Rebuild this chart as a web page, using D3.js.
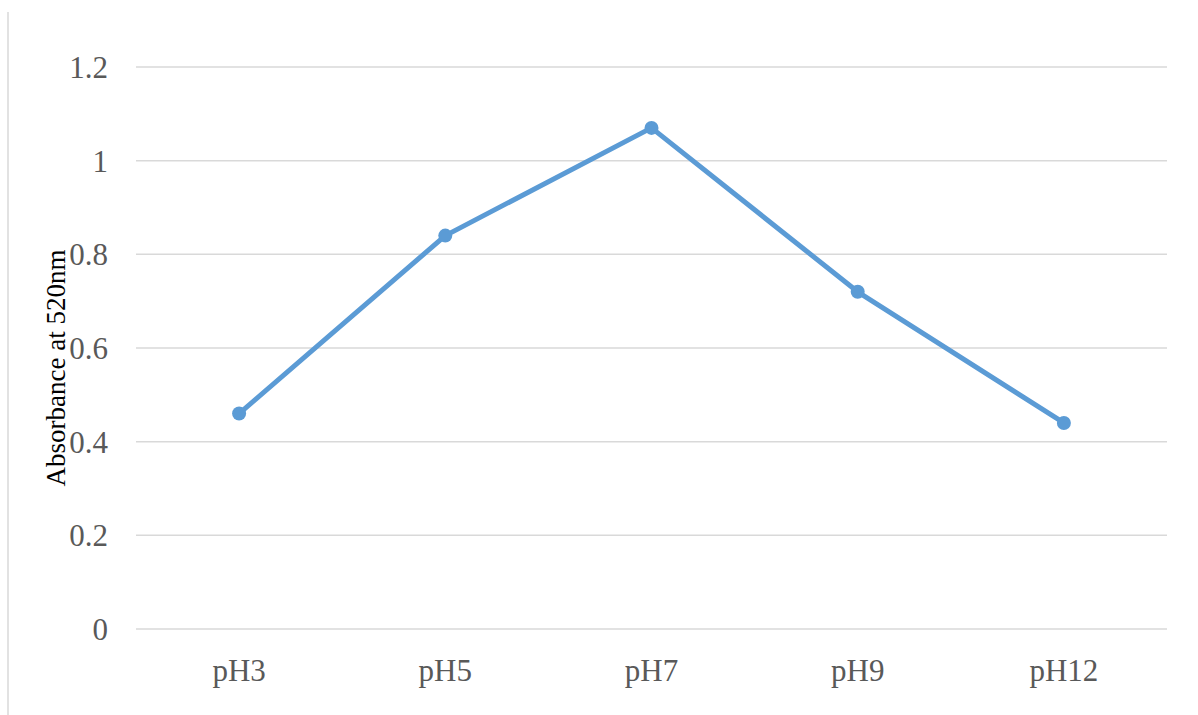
<!DOCTYPE html>
<html>
<head>
<meta charset="utf-8">
<script src="https://cdn.jsdelivr.net/npm/d3@7"></script>
<style>
  html, body { margin: 0; padding: 0; background: #fff; }
  svg { display: block; }
</style>
</head>
<body>
<svg id="chart" width="1198" height="715"></svg>
<script>
// Absorbance at 520 nm across pH conditions
const categories = ["pH3", "pH5", "pH7", "pH9", "pH12"];
const absorbance = [0.46, 0.84, 1.07, 0.72, 0.44];
const yTicks = [0, 0.2, 0.4, 0.6, 0.8, 1, 1.2];
const yTitle = "Absorbance at 520nm";

const svg = d3.select("#chart");
const W = 1198, H = 715;
const plot = { left: 136, right: 1167, top: 67, bottom: 629 };

svg.append("rect").attr("width", W).attr("height", H).attr("fill", "#fff");

// chart border (left edge visible)
svg.append("line")
  .attr("x1", 8).attr("x2", 8).attr("y1", 12).attr("y2", H)
  .attr("stroke", "#d9d9d9").attr("stroke-width", 1.5);

const x = d3.scaleBand().domain(categories).range([plot.left, plot.right]);
const y = d3.scaleLinear().domain([0, 1.2]).range([plot.bottom, plot.top]);

const font = "'Liberation Serif', 'Times New Roman', serif";

// horizontal gridlines
svg.append("g").selectAll("line").data(yTicks).join("line")
  .attr("x1", plot.left).attr("x2", plot.right)
  .attr("y1", d => y(d)).attr("y2", d => y(d))
  .attr("stroke", "#d9d9d9").attr("stroke-width", 1.5);

// y tick labels
svg.append("g").selectAll("text").data(yTicks).join("text")
  .attr("x", 108).attr("y", d => y(d))
  .attr("dy", "0.36em")
  .attr("text-anchor", "end")
  .attr("font-family", font).attr("font-size", 31)
  .attr("fill", "#595959")
  .text(d => d3.format("~g")(d));

// x tick labels
svg.append("g").selectAll("text").data(categories).join("text")
  .attr("x", d => x(d) + x.bandwidth() / 2).attr("y", 681)
  .attr("text-anchor", "middle")
  .attr("font-family", font).attr("font-size", 31)
  .attr("fill", "#595959")
  .text(d => d);

// y-axis title
svg.append("text")
  .attr("transform", `translate(65,368) rotate(-90)`)
  .attr("text-anchor", "middle")
  .attr("font-family", font).attr("font-size", 27)
  .attr("fill", "#000")
  .text(yTitle);

const pts = categories.map((c, i) => ({ c, v: absorbance[i] }));
const line = d3.line()
  .x(d => x(d.c) + x.bandwidth() / 2)
  .y(d => y(d.v));

svg.append("path").datum(pts)
  .attr("d", line)
  .attr("fill", "none")
  .attr("stroke", "#5b9bd5")
  .attr("stroke-width", 5)
  .attr("stroke-linejoin", "round")
  .attr("stroke-linecap", "round");

svg.append("g").selectAll("circle").data(pts).join("circle")
  .attr("cx", d => x(d.c) + x.bandwidth() / 2)
  .attr("cy", d => y(d.v))
  .attr("r", 7)
  .attr("fill", "#5b9bd5");
</script>
</body>
</html>
